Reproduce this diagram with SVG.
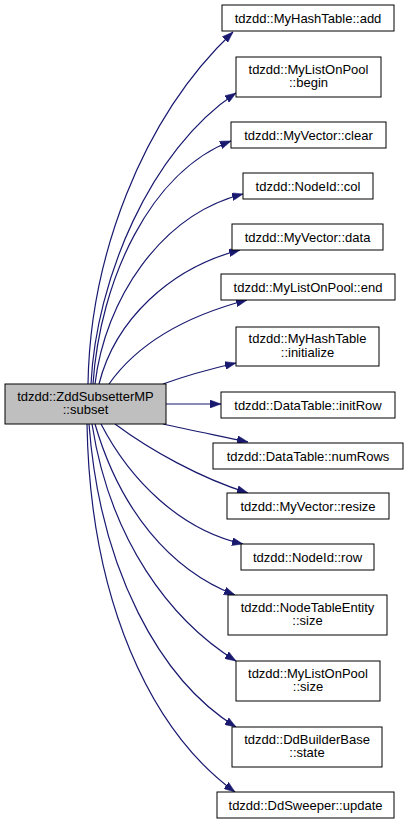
<svg xmlns="http://www.w3.org/2000/svg" width="408" height="824" viewBox="0 0 408 824">
<defs>
<style>
.n rect{fill:#ffffff;stroke:#000000;stroke-width:1}
.n.m rect{fill:#bfbfbf}
.n text{font-family:"Liberation Sans",Arial,Helvetica,sans-serif;font-size:13px;fill:#000000;text-anchor:middle}
.e path{fill:none;stroke:#191970;stroke-width:1.2;marker-end:url(#ah)}
</style>
<marker id="ah" markerUnits="userSpaceOnUse" markerWidth="11" markerHeight="8" refX="11" refY="4" orient="auto">
<path d="M0,0 L11,4 L0,8 z" fill="#191970" stroke="#191970" stroke-width="0.5"/>
</marker>
</defs>
<rect width="408" height="824" fill="#ffffff"/>
<g id="edges" class="e">
<path d="M88,384 C90,260 140,120 233,32"/>
<path d="M91,384 C96,280 150,150 236,93"/>
<path d="M93,384 C100,280 150,172 231,141"/>
<path d="M95,384 C105,300 160,215 243,194"/>
<path d="M99,384 C115,320 170,268 240,250"/>
<path d="M109,384 C140,340 190,315 247,300"/>
<path d="M163,384 C185,376 210,369 236,363"/>
<path d="M166,404 L221,404"/>
<path d="M163,424 C190,430 220,436 248,442"/>
<path d="M115,424 C150,450 200,478 248,493"/>
<path d="M101,424 C130,480 180,530 243,544"/>
<path d="M95,424 C120,510 170,570 235,595"/>
<path d="M92,424 C110,540 170,620 236,661"/>
<path d="M89,424 C100,570 160,680 236,727"/>
<path d="M87,424 C90,600 150,730 235,792"/>
</g>
<g id="main" class="n m"><rect x="5" y="384" width="161" height="40"/><text x="85.5" y="400.5">tdzdd::ZddSubsetterMP</text><text x="85.5" y="414">::subset</text></g>
<g id="add" class="n"><rect x="222" y="5" width="172" height="26"/><text x="308" y="22.5">tdzdd::MyHashTable::add</text></g>
<g id="begin" class="n"><rect x="236" y="57" width="145" height="40"/><text x="308.5" y="73.5">tdzdd::MyListOnPool</text><text x="308.5" y="87">::begin</text></g>
<g id="clear" class="n"><rect x="231" y="122" width="155" height="26"/><text x="308.5" y="139.5">tdzdd::MyVector::clear</text></g>
<g id="col" class="n"><rect x="243" y="173" width="130" height="26"/><text x="308" y="190.5">tdzdd::NodeId::col</text></g>
<g id="data" class="n"><rect x="232" y="224" width="151" height="26"/><text x="307.5" y="241.5">tdzdd::MyVector::data</text></g>
<g id="end" class="n"><rect x="221" y="274" width="174" height="26"/><text x="308" y="291.5">tdzdd::MyListOnPool::end</text></g>
<g id="initialize" class="n"><rect x="236" y="327" width="143" height="39"/><text x="307.5" y="343">tdzdd::MyHashTable</text><text x="307.5" y="356.5">::initialize</text></g>
<g id="initRow" class="n"><rect x="221" y="392" width="174" height="26"/><text x="308" y="409.5">tdzdd::DataTable::initRow</text></g>
<g id="numRows" class="n"><rect x="213" y="443" width="190" height="26"/><text x="308" y="460.5">tdzdd::DataTable::numRows</text></g>
<g id="resize" class="n"><rect x="227" y="493" width="162" height="26"/><text x="308" y="510.5">tdzdd::MyVector::resize</text></g>
<g id="row" class="n"><rect x="241" y="544" width="133" height="26"/><text x="307.5" y="561.5">tdzdd::NodeId::row</text></g>
<g id="nte_size" class="n"><rect x="228" y="595" width="159" height="40"/><text x="307.5" y="611.5">tdzdd::NodeTableEntity</text><text x="307.5" y="625">::size</text></g>
<g id="mlop_size" class="n"><rect x="236" y="661" width="144" height="40"/><text x="308" y="677.5">tdzdd::MyListOnPool</text><text x="308" y="691">::size</text></g>
<g id="state" class="n"><rect x="232" y="727" width="150" height="40"/><text x="307" y="743.5">tdzdd::DdBuilderBase</text><text x="307" y="757">::state</text></g>
<g id="update" class="n"><rect x="217" y="792" width="177" height="26"/><text x="305.5" y="809.5">tdzdd::DdSweeper::update</text></g>
</svg>
